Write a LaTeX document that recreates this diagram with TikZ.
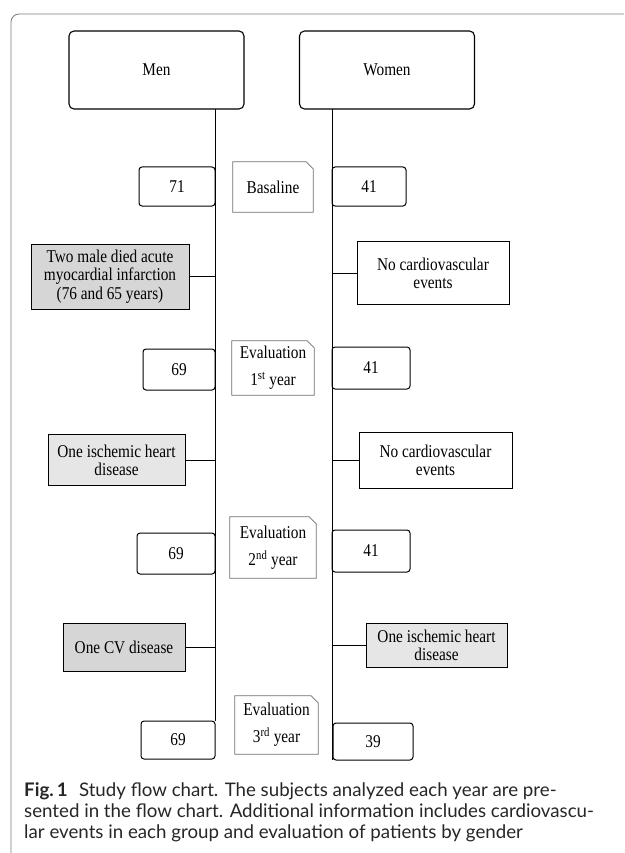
\documentclass[tikz,border=0pt]{standalone}
\usepackage{fontspec}
\setmainfont{Liberation Serif}[FakeStretch=0.85]
\newfontfamily\capfont{Lato}
\definecolor{darkfill}{HTML}{D6D6D6}
\definecolor{lightfill}{HTML}{E6E6E6}
\definecolor{framegray}{HTML}{7A7A7A}
\definecolor{notegray}{HTML}{6E6E6E}

\begin{document}
\begin{tikzpicture}[
  x=1pt, y=-1pt,
  every node/.style={font=\fontsize{18}{18.3}\selectfont, inner sep=0pt},
  group/.style={draw, rounded corners=5pt, line width=1.1pt, minimum width=175pt, minimum height=78pt},
  count/.style={draw, rounded corners=3pt, line width=1pt, minimum height=40pt},
  event/.style={draw, line width=1pt, align=center},
  note/.style={align=center, font=\fontsize{18}{27}\selectfont},
  caption/.style={align=left, text=black!85, font=\capfont\fontsize{18.7}{21}\selectfont},
  link/.style={line width=1pt}
]
  \useasboundingbox (0,0) rectangle (624,853);
  % frame
  \draw[framegray, line width=0.8pt, rounded corners=8pt] (624,14) -| (11,866);

  % groups
  \node[group] (men) at (156.5,70) {Men};
  \node[group] (women) at (387,70) {Women};

  % time lines
  \coordinate (mtop) at (215,109);
  \coordinate (mbot) at (215,721);
  \coordinate (wtop) at (332,109);
  \coordinate (wbot) at (332,760);
  \draw[link] (mtop) -- (mbot);
  \draw[link, line width=0.8pt] (wtop) -- (wbot);

  % baseline
  \node[count, minimum width=76pt, minimum height=39pt] (m71) at (177,186.5) {71};
  \node[note, minimum width=80pt, minimum height=50pt] (base) at (273,187) {Basaline};
  \node[count, minimum width=74pt, minimum height=39pt] (w41a) at (369,186.5) {41};

  % events, 1st year
  \node[event, fill=darkfill, minimum width=158pt, minimum height=65pt] (died) at (110,276.5)
    {Two male died acute\\myocardial infarction\\(76 and 65 years)};
  \node[event, minimum width=152pt, minimum height=63pt] (nocva) at (433,273)
    {No cardiovascular\\events};
  \draw[link] (died.east) -- (died.east -| mtop);
  \draw[link] (nocva.west) -- (nocva.west -| wtop);

  % 1st year
  \node[count, minimum width=72pt, minimum height=41pt] (m69a) at (179,369.5) {69};
  \node[note, minimum width=82pt, minimum height=54pt] (evala) at (273,368)
    {Evaluation\\1\textsuperscript{st} year};
  \node[count, minimum width=78pt, minimum height=42pt] (w41b) at (371,368) {41};

  % events, 2nd year
  \node[event, fill=lightfill, minimum width=137pt, minimum height=51pt] (ihda) at (116.5,460)
    {One ischemic heart\\disease};
  \node[event, minimum width=153pt, minimum height=56pt] (nocvb) at (435.5,460)
    {No cardiovascular\\events};
  \draw[link] (ihda.east) -- (ihda.east -| mtop);
  \draw[link] (nocvb.west) -- (nocvb.west -| wtop);

  % 2nd year
  \node[count, minimum width=78pt, minimum height=41pt] (m69b) at (176,553.5) {69};
  \node[note, minimum width=86pt, minimum height=61pt] (evalb) at (273,547.5)
    {Evaluation\\2\textsuperscript{nd} year};
  \node[count, minimum width=78pt, minimum height=42pt] (w41c) at (371,551) {41};

  % events, 3rd year
  \node[event, fill=darkfill, minimum width=122pt, minimum height=48pt] (cvd) at (124,647)
    {One CV disease};
  \node[event, fill=lightfill, minimum width=141pt, minimum height=44pt] (ihdb) at (436.5,645)
    {One ischemic heart\\disease};
  \draw[link] (cvd.east) -- (cvd.east -| mtop);
  \draw[link] (ihdb.west) -- (ihdb.west -| wtop);

  % 3rd year
  \node[count, minimum width=74pt, minimum height=38pt] (m69c) at (178,740) {69};
  \node[note, minimum width=83pt, minimum height=58pt] (evalc) at (276.5,725)
    {Evaluation\\3\textsuperscript{rd} year};
  \node[count, minimum width=80pt, minimum height=37pt] (w39) at (373,741.5) {39};

  % dog-eared notes
  \foreach \n in {base,evala,evalb,evalc}
    \draw[notegray, line width=0.7pt] (\n.south west) -- (\n.north west)
      -- ([xshift=-7pt]\n.north east) -- ([yshift=-7pt]\n.north east) -- (\n.south east) -- cycle;

  % caption
  \node[caption, anchor=north west] (cap) at (24,782)
    {\textbf{Fig.\,1}\hspace{0.6em}Study flow chart. The subjects analyzed each year are pre-\\
     sented in the flow chart. Additional information includes cardiovascu-\\
     lar events in each group and evaluation of patients by gender};
\end{tikzpicture}
\end{document}
